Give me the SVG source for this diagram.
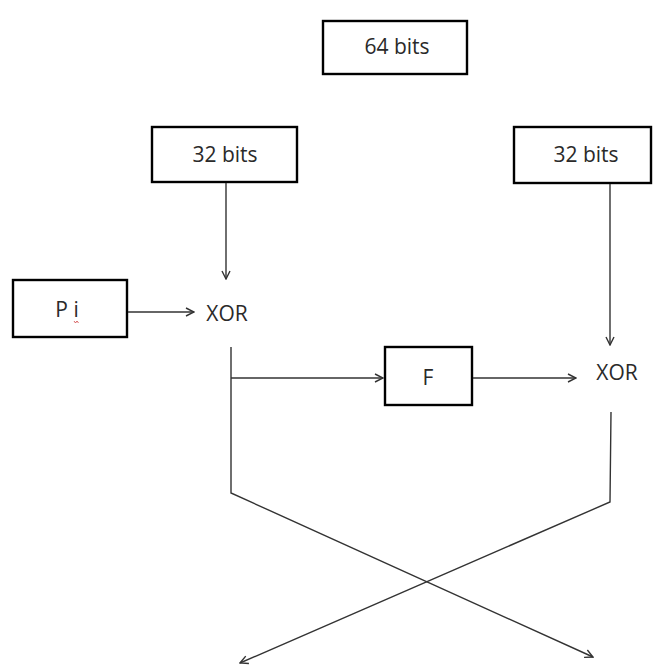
<svg xmlns="http://www.w3.org/2000/svg" width="653" height="668" viewBox="0 0 653 668">
  <style>
    .box { fill: #ffffff; stroke: #000000; stroke-width: 2.4; }
    .lbl { font-family: "Open Sans", "Liberation Sans", sans-serif; font-size: 21px; fill: #2a2a2a; text-anchor: middle; dominant-baseline: central; }
    .wire { fill: none; stroke: #333333; stroke-width: 1.4; }
  </style>
  <defs>
    <marker id="head" viewBox="0 0 10 10" refX="9" refY="5" markerWidth="10" markerHeight="10" markerUnits="userSpaceOnUse" orient="auto">
      <path d="M1,1 L9,5 L1,9" fill="none" stroke="#333333" stroke-width="1.4"/>
    </marker>
  </defs>
  <rect width="653" height="668" fill="#ffffff"/>

  <g id="block64">
    <rect class="box" x="323" y="21" width="144" height="53"/>
    <text class="lbl" x="397" y="46">64 bits</text>
  </g>
  <g id="left32">
    <rect class="box" x="152" y="127" width="145" height="55"/>
    <text class="lbl" x="225" y="154">32 bits</text>
  </g>
  <g id="right32">
    <rect class="box" x="514" y="127" width="137" height="56"/>
    <text class="lbl" x="586" y="154">32 bits</text>
  </g>
  <g id="pi">
    <rect class="box" x="13" y="280" width="114" height="57"/>
    <text class="lbl" x="67" y="309">P i</text>
    <path d="M74,321 l1.5,2 l1.5,-2 l1.5,2" fill="none" stroke="#d04040" stroke-width="0.8"/>
  </g>
  <g id="xorLeft">
    <text class="lbl" x="227" y="313">XOR</text>
  </g>
  <g id="f">
    <rect class="box" x="385" y="347" width="87" height="58"/>
    <text class="lbl" x="428" y="377">F</text>
  </g>
  <g id="xorRight">
    <text class="lbl" x="617" y="372">XOR</text>
  </g>

  <g id="connectors">
    <line class="wire" x1="226" y1="183" x2="226" y2="279" marker-end="url(#head)"/>
    <line class="wire" x1="610" y1="184" x2="610" y2="345" marker-end="url(#head)"/>
    <line class="wire" x1="128" y1="312" x2="194" y2="312" marker-end="url(#head)"/>
    <line class="wire" x1="231" y1="378" x2="383" y2="378" marker-end="url(#head)"/>
    <line class="wire" x1="473" y1="378" x2="576" y2="378" marker-end="url(#head)"/>
    <polyline class="wire" points="231,347 231,493 593,657" marker-end="url(#head)"/>
    <polyline class="wire" points="611,412 610,502 240,663" marker-end="url(#head)"/>
  </g>
</svg>
